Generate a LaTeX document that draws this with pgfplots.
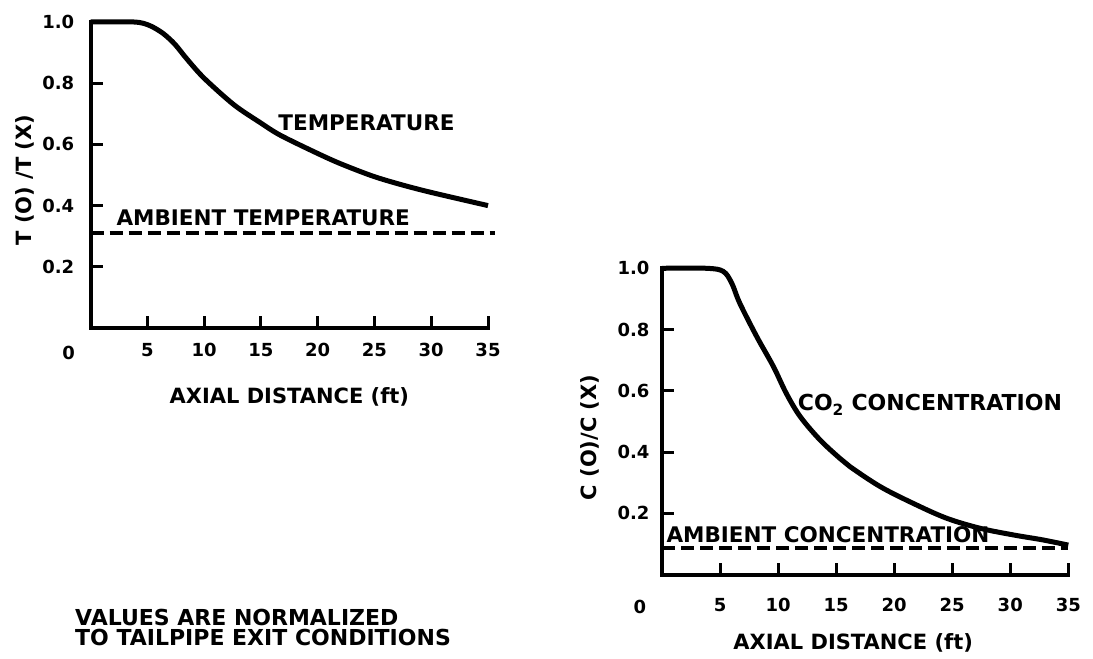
\documentclass[border=0pt]{standalone}
\usepackage{fontspec}
\setmainfont{DejaVu Sans}
\usepackage{pgfplots}
\pgfplotsset{compat=1.18}
\begin{document}
\begin{tikzpicture}
\useasboundingbox (0pt,0pt) rectangle (1093pt,659pt);
\pgfplotsset{
  mystyle/.style={
    scale only axis, anchor=south west,
    xmin=0, xmax=35, ymin=0, ymax=1,
    axis lines*=left,
    axis line style={line width=4pt, line cap=rect},
    tick style={line width=3pt, black},
    major tick length=12pt,
    tick align=inside,
    xtick={5,10,15,20,25,30,35},
    xticklabels={5,10,15,20,25,30,35},
    ytick={0.2,0.4,0.6,0.8,1.0},
    yticklabels={0.2,0.4,0.6,0.8,1.0},
    tick label style={font=\fontsize{18}{18}\selectfont\bfseries},
    clip=false,
  }
}
\begin{axis}[mystyle,
  at={(90.7pt,331pt)}, width=397.3pt, height=306pt,
  xticklabel style={yshift=-12pt},
  yticklabel style={xshift=-13pt},
  xlabel={AXIAL DISTANCE (ft)},
  ylabel={T (O) /T (X)},
  every axis x label/.style={at={(rel axis cs:0.5,0)}, anchor=center, yshift=-69pt, font=\fontsize{21}{21}\selectfont\bfseries},
  every axis y label/.style={at={(rel axis cs:0,0.5)}, rotate=90, anchor=center, xshift=-5pt, yshift=66pt, font=\fontsize{21}{21}\selectfont\bfseries},
]
\addplot[line width=5pt, smooth, tension=0.5] coordinates {
(0,1.0) (2,1.0) (3.8,1.0) (4.6,0.996) (5.4,0.985) (6.4,0.962) (7.4,0.928) (8.5,0.878) (10,0.816) (12.6,0.73) (14.9,0.672) (16.7,0.630) (19.9,0.572) (22,0.537) (24.8,0.497) (27.2,0.47) (30,0.443) (35,0.40)};
\addplot[line width=4pt, dash pattern=on 13pt off 6pt] coordinates {(0,0.31) (35.6,0.31)};
\node[font=\fontsize{21.5}{21.5}\selectfont\bfseries] at (axis cs:24.3,0.67) {TEMPERATURE};
\node[font=\fontsize{21.5}{21.5}\selectfont\bfseries] at (axis cs:15.2,0.36) {AMBIENT TEMPERATURE};
\node[font=\fontsize{18}{18}\selectfont\bfseries] at (axis cs:0,0) [xshift=-22pt, yshift=-25pt] {0};
\end{axis}
\begin{axis}[mystyle,
  at={(662pt,84.5pt)}, width=406.3pt, height=306.2pt,
  xticklabel style={yshift=-20pt},
  yticklabel style={xshift=-9pt},
  xlabel={AXIAL DISTANCE (ft)},
  ylabel={C (O)/C (X)},
  every axis x label/.style={at={(rel axis cs:0.5,0)}, anchor=center, yshift=-68pt, xshift=-12pt, font=\fontsize{21}{21}\selectfont\bfseries},
  every axis y label/.style={at={(rel axis cs:0,0.5)}, rotate=90, anchor=center, xshift=-16pt, yshift=72pt, font=\fontsize{21}{21}\selectfont\bfseries},
]
\addplot[line width=5pt, smooth, tension=0.55] coordinates {
(0,1) (3.84,1.0) (5.27,0.99) (6.0,0.952) (6.7,0.886) (8.16,0.777) (9.6,0.679) (10.7,0.592) (11.9,0.516) (13.6,0.44) (15.3,0.38) (16.2,0.352) (18.8,0.287) (21.6,0.233) (24.5,0.184) (27.4,0.151) (30.3,0.129) (32.8,0.113) (35,0.096)};
\addplot[line width=4pt, dash pattern=on 13pt off 6pt] coordinates {(0,0.087) (35,0.087)};
\node[font=\fontsize{22}{22}\selectfont\bfseries, anchor=west] at (axis cs:11.4,0.554) {CO\textsubscript{2} CONCENTRATION};
\node[font=\fontsize{21.5}{21.5}\selectfont\bfseries] at (axis cs:14.3,0.129) {AMBIENT CONCENTRATION};
\node[font=\fontsize{18}{18}\selectfont\bfseries] at (axis cs:0,0) [xshift=-22pt, yshift=-32.5pt] {0};
\end{axis}
\node[anchor=north west, align=left, inner sep=0pt, font=\fontsize{22}{20}\selectfont\bfseries] at (75pt,50pt) {VALUES ARE NORMALIZED\\TO TAILPIPE EXIT CONDITIONS};
\end{tikzpicture}
\end{document}
